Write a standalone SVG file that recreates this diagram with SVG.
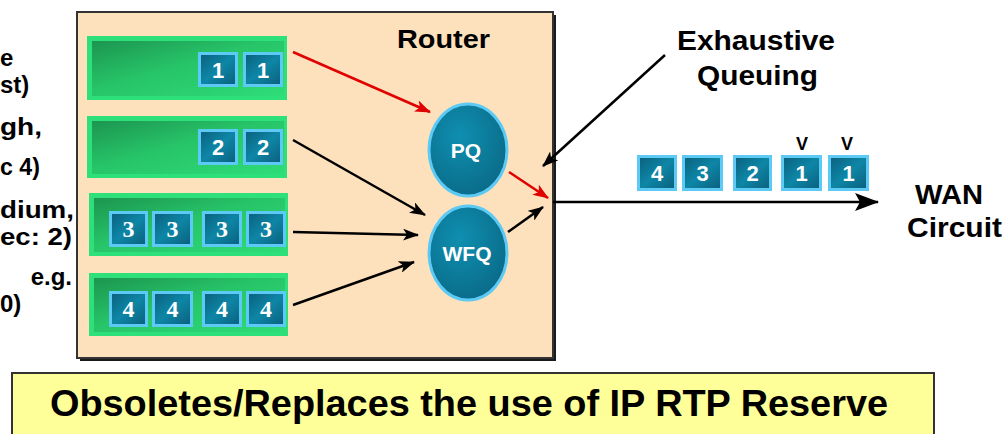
<svg xmlns="http://www.w3.org/2000/svg" width="1005" height="434" viewBox="0 0 1005 434">
<defs>
<style>
.lbl{font-family:"Liberation Sans",Arial,sans-serif;font-weight:bold;fill:#000}
.dig{font-family:"Liberation Sans",Arial,sans-serif;font-weight:bold;fill:#fff;font-size:22px;text-anchor:middle}
.digs{font-family:"Liberation Serif","Times New Roman",serif;font-weight:bold;fill:#fff;font-size:24px;text-anchor:middle}
.bar{fill:#2ee07a}
.barin{fill:url(#gGreen)}
.pk{fill:url(#gTeal);stroke:#5ccaf5;stroke-width:3}
.node{fill:url(#gOval);stroke:#5ccaf5;stroke-width:3}
.wb{stroke:#000;fill:none;stroke-width:2.5}
.wr{stroke:#e00000;fill:none;stroke-width:2.5}
</style>
<linearGradient id="gGreen" x1="0" y1="0" x2="1" y2="1">
<stop offset="0" stop-color="#1c9550"/>
<stop offset="0.45" stop-color="#27c468"/>
<stop offset="1" stop-color="#2edc78"/>
</linearGradient>
<linearGradient id="gTeal" x1="0" y1="0" x2="1" y2="1">
<stop offset="0" stop-color="#0a5f7c"/>
<stop offset="0.5" stop-color="#0e86a6"/>
<stop offset="1" stop-color="#0a5f7c"/>
</linearGradient>
<radialGradient id="gOval" cx="0.4" cy="0.35" r="0.7">
<stop offset="0" stop-color="#0f8fb0"/>
<stop offset="1" stop-color="#0a6a88"/>
</radialGradient>
<marker id="ab" markerUnits="userSpaceOnUse" markerWidth="16" markerHeight="12" refX="15" refY="6" orient="auto">
<path d="M0,0 L16,6 L0,12 L4,6 z" fill="#000"/>
</marker>
<marker id="ar" markerUnits="userSpaceOnUse" markerWidth="16" markerHeight="12" refX="15" refY="6" orient="auto">
<path d="M0,0 L16,6 L0,12 L4,6 z" fill="#e00000"/>
</marker>
<marker id="abig" markerUnits="userSpaceOnUse" markerWidth="24" markerHeight="18" refX="23" refY="9" orient="auto">
<path d="M0,0 L24,9 L0,18 L5,9 z" fill="#000"/>
</marker>
</defs>
<rect width="1005" height="434" fill="#fff"/>

<g id="left-labels">
<text class="lbl" font-size="24" x="0" y="66">e</text>
<text class="lbl" font-size="24" x="0" y="93">st)</text>
<text class="lbl" font-size="24" x="0" y="135" textLength="42" lengthAdjust="spacingAndGlyphs">gh,</text>
<text class="lbl" font-size="24" x="0" y="175" textLength="40" lengthAdjust="spacingAndGlyphs">c 4)</text>
<text class="lbl" font-size="24" x="0" y="218" textLength="74" lengthAdjust="spacingAndGlyphs">dium,</text>
<text class="lbl" font-size="24" x="0" y="245" textLength="72" lengthAdjust="spacingAndGlyphs">ec: 2)</text>
<text class="lbl" font-size="24" x="72" y="285" text-anchor="end">e.g.</text>
<text class="lbl" font-size="24" x="0" y="312">0)</text>
</g>

<g id="router">
<rect x="80" y="15" width="476" height="346" fill="#1a1a1a"/>
<rect x="77" y="12" width="476" height="346" fill="#fde1bc" stroke="#333" stroke-width="2"/>
<text class="lbl" font-size="26" x="397" y="48" textLength="93" lengthAdjust="spacingAndGlyphs">Router</text>
</g>

<g id="queue1">
<rect class="bar" x="87" y="36" width="200" height="64"/>
<rect class="barin" x="92" y="41" width="192" height="55"/>
<rect class="pk" x="199.5" y="53.5" width="37" height="32"/>
<rect class="pk" x="244.5" y="53.5" width="37" height="32"/>
<text class="dig" x="218" y="78">1</text>
<text class="dig" x="263" y="78">1</text>
</g>

<g id="queue2">
<rect class="bar" x="87" y="116" width="200" height="62"/>
<rect class="barin" x="92" y="121" width="192" height="53"/>
<rect class="pk" x="199.5" y="130.5" width="37" height="33"/>
<rect class="pk" x="244.5" y="130.5" width="37" height="33"/>
<text class="dig" x="218" y="155">2</text>
<text class="dig" x="263" y="155">2</text>
</g>

<g id="queue3">
<rect class="bar" x="89" y="193" width="199" height="63"/>
<rect class="barin" x="94" y="198" width="191" height="54"/>
<rect class="pk" x="110.5" y="212.5" width="36" height="33"/>
<rect class="pk" x="153.5" y="212.5" width="38" height="33"/>
<rect class="pk" x="203.5" y="212.5" width="37" height="33"/>
<rect class="pk" x="247.5" y="212.5" width="37" height="33"/>
<text class="digs" x="128.5" y="237">3</text>
<text class="digs" x="172.5" y="237">3</text>
<text class="digs" x="222" y="237">3</text>
<text class="digs" x="266" y="237">3</text>
</g>

<g id="queue4">
<rect class="bar" x="89" y="273" width="199" height="63"/>
<rect class="barin" x="94" y="278" width="191" height="54"/>
<rect class="pk" x="110.5" y="292.5" width="36" height="33"/>
<rect class="pk" x="153.5" y="292.5" width="38" height="33"/>
<rect class="pk" x="203.5" y="292.5" width="37" height="33"/>
<rect class="pk" x="247.5" y="292.5" width="37" height="33"/>
<text class="digs" x="128.5" y="317">4</text>
<text class="digs" x="172.5" y="317">4</text>
<text class="digs" x="222" y="317">4</text>
<text class="digs" x="266" y="317">4</text>
</g>

<g id="pq">
<ellipse class="node" cx="468" cy="150" rx="39" ry="46"/>
<text class="lbl" font-size="21" x="466" y="158" text-anchor="middle" style="fill:#fff">PQ</text>
</g>

<g id="wfq">
<ellipse class="node" cx="468" cy="253" rx="39" ry="47"/>
<text class="lbl" font-size="21" x="467" y="261" text-anchor="middle" style="fill:#fff">WFQ</text>
</g>

<g id="exhaustive-label">
<text class="lbl" font-size="28" x="677" y="50" textLength="158" lengthAdjust="spacingAndGlyphs">Exhaustive</text>
<text class="lbl" font-size="28" x="697" y="85" textLength="121" lengthAdjust="spacingAndGlyphs">Queuing</text>
</g>

<g id="output-queue">
<rect class="pk" x="638.5" y="156.5" width="37" height="33"/>
<rect class="pk" x="683.5" y="156.5" width="38" height="33"/>
<rect class="pk" x="734.5" y="156.5" width="36" height="33"/>
<rect class="pk" x="782.5" y="156.5" width="38" height="33"/>
<rect class="pk" x="829.5" y="156.5" width="38" height="33"/>
<text class="dig" x="657" y="181">4</text>
<text class="dig" x="702.5" y="181">3</text>
<text class="dig" x="752.5" y="181">2</text>
<text class="dig" x="801.5" y="181">1</text>
<text class="dig" x="848.5" y="181">1</text>
<text class="lbl" font-size="18" x="802" y="150" text-anchor="middle">V</text>
<text class="lbl" font-size="18" x="847" y="150" text-anchor="middle">V</text>
</g>

<g id="wan">
<text class="lbl" font-size="28" x="915" y="204" textLength="68" lengthAdjust="spacingAndGlyphs">WAN</text>
<text class="lbl" font-size="28" x="907" y="237" textLength="95" lengthAdjust="spacingAndGlyphs">Circuit</text>
</g>

<g id="connectors">
<line class="wr" x1="293" y1="52" x2="430" y2="112" marker-end="url(#ar)"/>
<line class="wb" x1="293" y1="140" x2="425" y2="215" marker-end="url(#ab)"/>
<line class="wb" x1="293" y1="232" x2="418" y2="235" marker-end="url(#ab)"/>
<line class="wb" x1="293" y1="305" x2="414" y2="262" marker-end="url(#ab)"/>
<line class="wb" x1="508" y1="232" x2="543" y2="207" marker-end="url(#ab)"/>
<line class="wr" x1="509" y1="172" x2="548" y2="198" marker-end="url(#ar)"/>
<line class="wb" x1="665" y1="55" x2="543" y2="166" stroke-width="3" marker-end="url(#ab)"/>
<line class="wb" x1="553" y1="202" x2="878" y2="202" stroke-width="4" marker-end="url(#abig)"/>
</g>

<g id="banner">
<rect x="12" y="373" width="922" height="70" fill="#ffff99" stroke="#333" stroke-width="2"/>
<text class="lbl" font-size="36" x="50" y="416" textLength="838" lengthAdjust="spacingAndGlyphs">Obsoletes/Replaces the use of IP RTP Reserve</text>
</g>
</svg>
